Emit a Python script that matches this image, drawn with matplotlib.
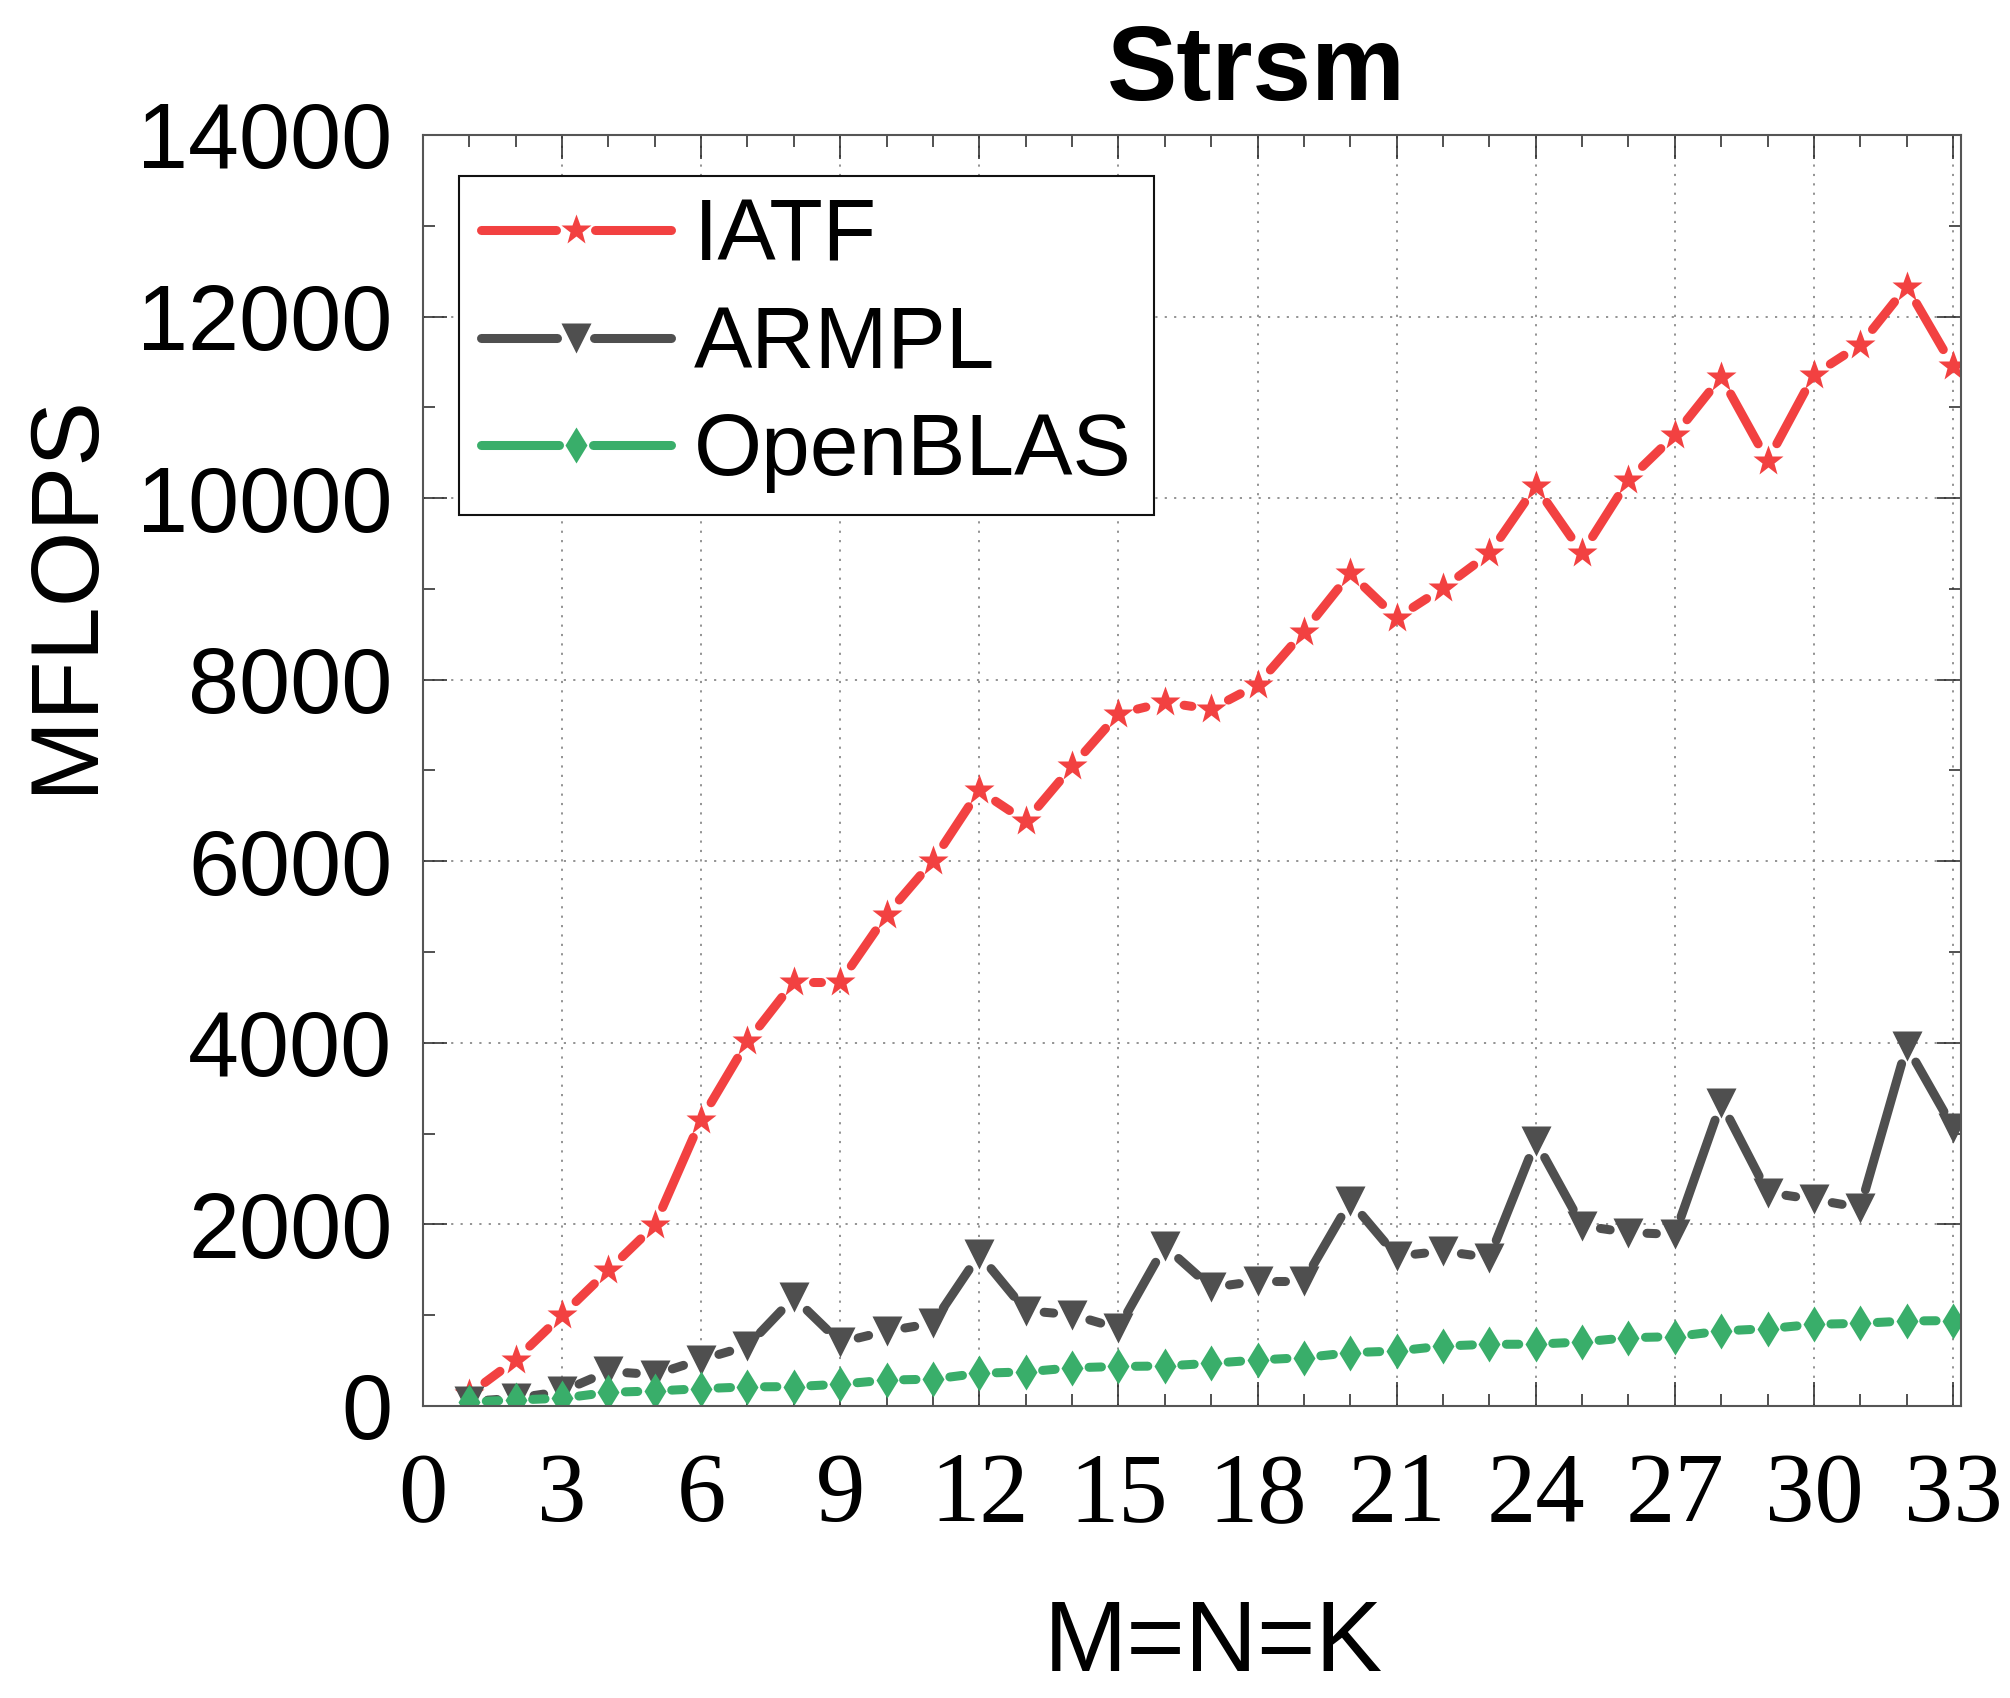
import matplotlib

matplotlib.use("Agg")
import matplotlib.pyplot as plt
import numpy as np
from matplotlib.legend_handler import HandlerBase
from matplotlib.lines import Line2D
from matplotlib.ticker import MultipleLocator

# values (MFLOPS for M=N=K = 1..33)
sizes = list(range(1, 34))
iatf = [130, 510, 1000, 1495, 1990, 3155, 4015, 4670, 4670, 5410, 6005, 6780, 6440,
        7045, 7625, 7750, 7675, 7945, 8530, 9170, 8680, 9010, 9390, 10130, 9395,
        10200, 10695, 11335, 10410, 11360, 11690, 12330, 11450]
armpl = [50, 85, 160, 380, 345, 510, 660, 1195, 700, 825, 910, 1670, 1050, 1005,
         855, 1760, 1305, 1375, 1375, 2255, 1650, 1705, 1635, 2915, 1985, 1910,
         1890, 3340, 2350, 2275, 2185, 3965, 3065]
openblas = [45, 65, 85, 150, 165, 190, 210, 213, 239, 285, 295, 360, 375, 420, 435,
            440, 470, 506, 532, 587, 605, 660, 679, 680, 705, 752, 763, 826, 851,
            899, 910, 936, 940]

labels = ["IATF", "ARMPL", "OpenBLAS"]
colors = ["#F24141", "#4F4F4F", "#39AE6A"]
markers = ["*", "v", "d"]
msizes = [23, 22, 18]
gaps_px = [19.5, 18.5, 17]  # line stops this far from each symbol (px)
LW = 6.5

SANS = ["Liberation Sans", "DejaVu Sans"]
SERIF = ["Liberation Serif", "DejaVu Serif"]


class GapHandler(HandlerBase):
    """Legend entry: line with a gap around the symbol."""

    def __init__(self, gap, **kw):
        super().__init__(**kw)
        self.gap = gap

    def create_artists(self, legend, orig, xdescent, ydescent, width, height, fontsize, trans):
        y = height / 2 - ydescent
        x0, x1 = -xdescent, width - xdescent
        cx = (x0 + x1) / 2
        kw = dict(color=orig.get_color(), lw=orig.get_linewidth(), solid_capstyle="round")
        left = Line2D([x0, cx - self.gap], [y, y], **kw)
        right = Line2D([cx + self.gap, x1], [y, y], **kw)
        mk = Line2D([cx], [y], ls="none", marker=orig.get_marker(),
                    ms=orig.get_markersize(), color=orig.get_color(), mec="none")
        for a in (left, right, mk):
            a.set_transform(trans)
        return [left, right, mk]


def gapped_line(ax, x, y, gap, **kw):
    # draw segment by segment, trimmed in pixel space so the gap is round the symbol
    pts = ax.transData.transform(np.column_stack([x, y]))
    inv = ax.transData.inverted()
    for p, q in zip(pts[:-1], pts[1:]):
        d = q - p
        L = np.hypot(*d)
        if L <= 2 * gap + 1:
            continue
        u = d / L
        seg = inv.transform(np.array([p + u * gap, q - u * gap]))
        ax.plot(seg[:, 0], seg[:, 1], solid_capstyle="round", **kw)


fig = plt.figure(figsize=(20.1, 16.98), dpi=100)
ax = fig.add_axes([0.2104, 0.1720, 0.7652, 0.7485])
ax.set_xlim(0, 33.17)
ax.set_ylim(0, 14000)

ax.xaxis.set_major_locator(MultipleLocator(3))
ax.xaxis.set_minor_locator(MultipleLocator(1))
ax.yaxis.set_major_locator(MultipleLocator(2000))
ax.yaxis.set_minor_locator(MultipleLocator(1000))
ax.grid(which="major", color="#8a8a8a", linestyle=(0, (1.2, 4)), linewidth=1.3)
ax.set_axisbelow(True)

handles = []
for ys, c, m, ms, g, lab in zip([iatf, armpl, openblas], colors, markers, msizes, gaps_px, labels):
    gapped_line(ax, sizes, ys, g, color=c, lw=LW)
    ax.plot(sizes, ys, ls="none", marker=m, ms=ms, color=c, mec="none")
    handles.append(Line2D([], [], color=c, lw=LW, marker=m, ms=ms, label=lab))

for s in ax.spines.values():
    s.set_color("#555555")
    s.set_linewidth(1.5)

ax.tick_params(which="both", direction="in", top=True, right=True, color="#222222")
ax.tick_params(which="major", length=17, width=1.1)
ax.tick_params(which="minor", length=8.5, width=1.1)
ax.tick_params(axis="y", pad=22)
ax.tick_params(axis="x", pad=33)
for t in ax.get_yticklabels():
    t.set_fontfamily(SANS)
    t.set_fontsize(66)
for t in ax.get_xticklabels():
    t.set_fontfamily(SERIF)
    t.set_fontsize(71)

ax.set_xlabel("M=N=K", fontsize=72, family=SANS)
ax.xaxis.set_label_coords(0.5137, -0.151)
ax.set_ylabel("MFLOPS", fontsize=70, family=SANS)
ax.yaxis.set_label_coords(-0.203, 0.640)

fig.text(1256 / 2010, 1 - 100 / 1698, "Strsm", ha="center", va="baseline",
         fontsize=76, fontweight="bold", family=SANS)

leg = ax.legend(handles=handles, loc="upper left", bbox_to_anchor=(0.0234, 0.9677),
                borderaxespad=0, prop={"family": SANS, "size": 63},
                handlelength=2.17, handletextpad=0.27, labelspacing=0.3,
                borderpad=0.25, fancybox=False, framealpha=1,
                handler_map={h: GapHandler(g * 0.72) for h, g in zip(handles, gaps_px)})
leg.get_frame().set_edgecolor("#111111")
leg.get_frame().set_linewidth(1.5)

fig.savefig("out.png", dpi=100)
